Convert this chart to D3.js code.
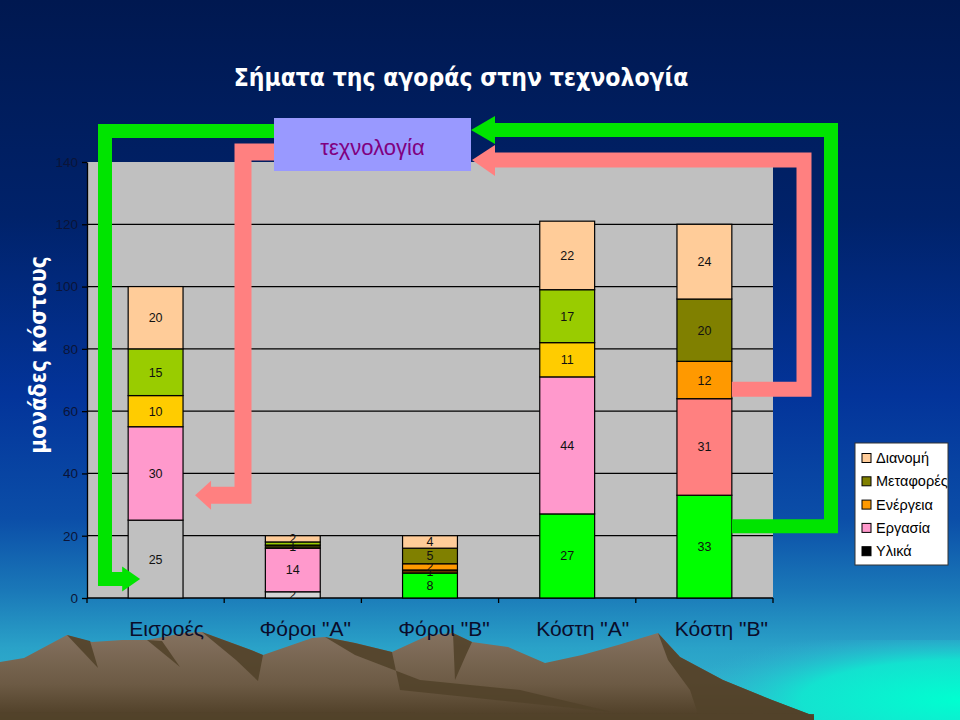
<!DOCTYPE html>
<html>
<head>
<meta charset="utf-8">
<script src="https://cdn.jsdelivr.net/npm/d3@7"></script>
<style>
  html, body { margin: 0; padding: 0; background: #001a4d; overflow: hidden; }
  svg { display: block; }
</style>
</head>
<body>
<div id="chart"></div>
<script>
/**
 * CONSTANTS AND GLOBALS
 * */
const width = 960,
  height = 720,
  margin = { top: 162, bottom: 122, left: 87, right: 187 };

/**
 * DATA
 * */
const categories = ["Εισροές", "Φόροι \"A\"", "Φόροι \"B\"", "Κόστη \"A\"", "Κόστη \"B\""];
const seriesNames = ["Υλικά", "Εργασία", "Ενέργεια", "Μεταφορές", "Διανομή"];
const ylika = [25, 2, 8, 27, 33];
const ergasia = [30, 14, 1, 44, 31];
const energeia = [10, 1, 2, 11, 12];
const metafores = [15, 1, 5, 17, 20];
const dianomi = [20, 2, 4, 22, 24];
const yTicks = [0, 20, 40, 60, 80, 100, 120, 140];

// colours per bar (the slide colours each point separately)
const pointColors = {
  "Υλικά": ["#C0C0C0", "#D4D4D4", "#00FF00", "#00FF00", "#00FF00"],
  "Εργασία": ["#FF99CC", "#FF99CC", "#663300", "#FF99CC", "#FF8080"],
  "Ενέργεια": ["#FFCC00", "#333300", "#FF9900", "#FFCC00", "#FF9900"],
  "Μεταφορές": ["#99CC00", "#99CC00", "#808000", "#99CC00", "#808000"],
  "Διανομή": ["#FFCC99", "#FFCC99", "#FFCC99", "#FFCC99", "#FFCC99"]
};
const legendColors = ["#000000", "#FF99CC", "#FF9900", "#808000", "#FFCC99"];

const green = "#00E400", salmon = "#FF8080";

const table = categories.map((c, i) => ({
  cat: c,
  "Υλικά": ylika[i],
  "Εργασία": ergasia[i],
  "Ενέργεια": energeia[i],
  "Μεταφορές": metafores[i],
  "Διανομή": dianomi[i]
}));

/**
 * SVG + BACKGROUND
 * */
const svg = d3.select("#chart")
  .append("svg")
  .attr("width", width)
  .attr("height", height)
  .style("font-family", "'Liberation Sans', Arial, sans-serif");

const defs = svg.append("defs");

const bg = defs.append("linearGradient")
  .attr("id", "bg").attr("x1", 0).attr("y1", 0).attr("x2", 0).attr("y2", 1);
[[0, "#001850"], [0.3, "#00226a"], [0.55, "#03349a"], [0.72, "#0b4ea8"],
 [0.82, "#1a78b8"], [0.9, "#2aa2c8"], [1, "#36bcd0"]]
  .forEach(([o, c]) => bg.append("stop").attr("offset", o).attr("stop-color", c));

const glow = defs.append("radialGradient")
  .attr("id", "glow").attr("cx", 1).attr("cy", 0.75).attr("r", 0.9);
glow.append("stop").attr("offset", 0).attr("stop-color", "#00FFD0").attr("stop-opacity", 1);
glow.append("stop").attr("offset", 0.55).attr("stop-color", "#10E8D0").attr("stop-opacity", 0.9);
glow.append("stop").attr("offset", 1).attr("stop-color", "#30B0D0").attr("stop-opacity", 0);

const mtn = defs.append("linearGradient")
  .attr("id", "mtn").attr("x1", 0).attr("y1", 0).attr("x2", 0).attr("y2", 1);
mtn.append("stop").attr("offset", 0).attr("stop-color", "#857260");
mtn.append("stop").attr("offset", 0.6).attr("stop-color", "#6c5a44");
mtn.append("stop").attr("offset", 1).attr("stop-color", "#4c3c24");

svg.append("rect").attr("width", width).attr("height", height).attr("fill", "url(#bg)");
svg.append("rect")
  .attr("x", 640).attr("y", 640).attr("width", 320).attr("height", 80)
  .attr("fill", "url(#glow)");

// mountains (decoration)
const ridge = [[0, 662], [24, 658], [67, 635], [92, 642], [122, 640], [147, 640],
  [184, 633], [202, 632], [251, 650], [263, 655], [312, 638], [325, 637], [355, 643],
  [392, 652], [429, 635], [453, 633], [472, 642], [508, 647], [545, 663], [582, 655],
  [618, 645], [658, 633], [680, 657], [723, 680], [772, 700], [814, 716], [814, 720], [0, 720]];
const shadows = [
  [[67, 635], [90, 641], [98, 668]],
  [[147, 640], [162, 641], [180, 667]],
  [[202, 632], [251, 650], [263, 655], [258, 681], [236, 660]],
  [[325, 637], [355, 643], [392, 652], [400, 690], [612, 712], [520, 690], [420, 680], [355, 655]],
  [[453, 633], [472, 642], [466, 655], [455, 680]],
  [[658, 633], [680, 657], [723, 680], [772, 700], [814, 716], [814, 720], [700, 720], [690, 690], [668, 660]],
  [[0, 712], [814, 714], [814, 720], [0, 720]]
];
const line = d3.line();
svg.append("path").attr("d", line(ridge) + "Z").attr("fill", "url(#mtn)");
svg.selectAll(".shadow")
  .data(shadows)
  .join("path")
  .attr("class", "shadow")
  .attr("d", d => line(d) + "Z")
  .attr("fill", "#52422a")
  .attr("opacity", 0.9);

/**
 * SCALES
 * */
const x = d3.scaleBand()
  .domain(categories)
  .range([margin.left, width - margin.right])
  .paddingInner(0.6)
  .paddingOuter(0.3);

const y = d3.scaleLinear()
  .domain([0, 140])
  .range([height - margin.bottom, margin.top]);

/**
 * PLOT AREA
 * */
svg.append("rect")
  .attr("x", margin.left)
  .attr("y", margin.top)
  .attr("width", width - margin.left - margin.right)
  .attr("height", y(0) - margin.top)
  .attr("fill", "#C0C0C0");

svg.append("g")
  .selectAll("line")
  .data(yTicks.filter(d => d > 0 && d < 140))
  .join("line")
  .attr("x1", margin.left)
  .attr("x2", width - margin.right)
  .attr("y1", d => y(d))
  .attr("y2", d => y(d))
  .attr("stroke", "#000")
  .attr("stroke-width", 1.3);

// y axis
const yAxis = svg.append("g")
  .attr("transform", `translate(${margin.left},0)`)
  .call(d3.axisLeft(y).tickValues(yTicks).tickSize(5).tickSizeOuter(0));
yAxis.select(".domain").attr("stroke", "#000").attr("stroke-width", 1.3);
yAxis.selectAll(".tick line").attr("stroke", "#000").attr("stroke-width", 1.3);
yAxis.selectAll(".tick text")
  .attr("font-size", 13.5)
  .attr("font-family", "'Liberation Sans', Arial, sans-serif")
  .attr("fill", "#0b1438")
  .attr("x", -9);

// x axis with ticks between categories
svg.append("line")
  .attr("x1", margin.left).attr("x2", width - margin.right)
  .attr("y1", y(0)).attr("y2", y(0))
  .attr("stroke", "#000").attr("stroke-width", 1.3);
svg.append("g")
  .selectAll("line")
  .data(d3.range(categories.length + 1))
  .join("line")
  .attr("x1", i => margin.left + i * x.step())
  .attr("x2", i => margin.left + i * x.step())
  .attr("y1", y(0))
  .attr("y2", y(0) + 5)
  .attr("stroke", "#000")
  .attr("stroke-width", 1.3);

svg.append("g")
  .selectAll("text")
  .data(categories)
  .join("text")
  .attr("x", (d, i) => x(d) + x.bandwidth() / 2 + 11 + i * 1.5)
  .attr("y", 636)
  .attr("text-anchor", "middle")
  .attr("font-size", 21)
  .attr("fill", "#0a0c2a")
  .text(d => d);

/**
 * STACKED BARS
 * */
const stacked = d3.stack().keys(seriesNames)(table);

const layers = svg.append("g")
  .selectAll("g")
  .data(stacked)
  .join("g");

layers.selectAll("rect")
  .data(s => s.map((d, i) => ({ key: s.key, i, y0: d[0], y1: d[1], cat: d.data.cat })))
  .join("rect")
  .attr("x", d => x(d.cat))
  .attr("width", x.bandwidth())
  .attr("y", d => y(d.y1))
  .attr("height", d => y(d.y0) - y(d.y1))
  .attr("fill", d => pointColors[d.key][d.i])
  .attr("stroke", "#000")
  .attr("stroke-width", 1.2);

layers.selectAll("text")
  .data(s => s.map((d, i) => ({ key: s.key, i, y0: d[0], y1: d[1], cat: d.data.cat, v: d[1] - d[0] })))
  .join("text")
  .attr("x", d => x(d.cat) + x.bandwidth() / 2)
  .attr("y", d => y((d.y0 + d.y1) / 2) + 4.5)
  .attr("text-anchor", "middle")
  .attr("font-size", 12.5)
  .attr("fill", "#111")
  .text(d => d.v);

/**
 * ARROWS (market signals)
 * */
const boxL = 274, boxR = 471, boxT = 118, boxB = 171;
const c1 = x(categories[0]), c5 = x(categories[4]) + x.bandwidth();

function arrow(points, color, w, head) {
  svg.append("path")
    .attr("d", line(points))
    .attr("fill", "none")
    .attr("stroke", color)
    .attr("stroke-width", w)
    .attr("stroke-linejoin", "miter");
  svg.append("path")
    .attr("d", line(head) + "Z")
    .attr("fill", color);
}

// left green: technology -> inputs
const gLx = 105, gTop = 131, gLy = y(6.1);
arrow([[boxL + 2, gTop], [gLx, gTop], [gLx, gLy], [c1 - 5, gLy]], green, 14,
  [[c1 - 6, gLy - 12.5], [c1 + 12, gLy], [c1 - 6, gLy + 12.5]]);

// left salmon: technology -> labour of inputs
const sLx = 243, sTop = 152, sLy = y(33);
arrow([[boxL + 2, sTop], [sLx, sTop], [sLx, sLy], [c1 + x.bandwidth() + 27, sLy]], salmon, 17,
  [[c1 + x.bandwidth() + 28, sLy - 14.5], [c1 + x.bandwidth() + 12, sLy], [c1 + x.bandwidth() + 28, sLy + 14.5]]);

// right green: costs B -> technology
const gRx = 831, gRy = y(23);
arrow([[c5, gRy], [gRx, gRy], [gRx, gTop - 1], [boxR + 22, gTop - 1]], green, 14,
  [[boxR + 24, gTop - 15], [boxR, gTop - 1], [boxR + 24, gTop + 13]]);

// right salmon: costs B -> technology
const sRx = 804, sRy = y(67), sTop2 = 160;
arrow([[c5, sRy], [sRx, sRy], [sRx, sTop2], [boxR + 22, sTop2]], salmon, 15,
  [[boxR + 24, sTop2 - 15], [boxR + 1, sTop2], [boxR + 24, sTop2 + 16]]);

// technology box
svg.append("rect")
  .attr("x", boxL).attr("y", boxT)
  .attr("width", boxR - boxL).attr("height", boxB - boxT)
  .attr("fill", "#9999FF");
svg.append("text")
  .attr("x", (boxL + boxR) / 2)
  .attr("y", 155)
  .attr("text-anchor", "middle")
  .attr("font-size", 22)
  .attr("fill", "#800080")
  .text("τεχνολογία");

/**
 * TITLES
 * */
svg.append("text")
  .attr("x", 461)
  .attr("y", 86)
  .attr("text-anchor", "middle")
  .attr("font-family", "'DejaVu Sans Condensed', 'DejaVu Sans', sans-serif")
  .attr("font-weight", "bold")
  .attr("font-size", 24.5)
  .attr("fill", "#fff")
  .text("Σήματα της αγοράς στην τεχνολογία");

svg.append("text")
  .attr("transform", "translate(46,355) rotate(-90)")
  .attr("text-anchor", "middle")
  .attr("font-family", "'DejaVu Sans Condensed', 'DejaVu Sans', sans-serif")
  .attr("font-weight", "bold")
  .attr("font-size", 22.5)
  .attr("fill", "#fff")
  .text("μονάδες κόστους");

/**
 * LEGEND
 * */
const lg = { x: 855, y: 443, w: 93, h: 122 };
defs.append("clipPath").attr("id", "lgclip")
  .append("rect").attr("x", lg.x).attr("y", lg.y).attr("width", lg.w).attr("height", lg.h);

const legend = svg.append("g");
legend.append("rect")
  .attr("x", lg.x).attr("y", lg.y).attr("width", lg.w).attr("height", lg.h)
  .attr("fill", "#fff").attr("stroke", "#333").attr("stroke-width", 1);

const items = legend.append("g")
  .attr("clip-path", "url(#lgclip)")
  .selectAll("g")
  .data(seriesNames.map((s, i) => ({ s, c: legendColors[i] })).reverse())
  .join("g")
  .attr("transform", (d, i) => `translate(${lg.x + 7},${lg.y + 15 + i * 23.3})`);
items.append("rect")
  .attr("x", 0).attr("y", -4.5).attr("width", 9).attr("height", 9)
  .attr("fill", d => d.c).attr("stroke", "#000").attr("stroke-width", 1);
items.append("text")
  .attr("x", 14).attr("y", 5)
  .attr("font-size", 14.5)
  .attr("fill", "#000")
  .text(d => d.s);
</script>
</body>
</html>
